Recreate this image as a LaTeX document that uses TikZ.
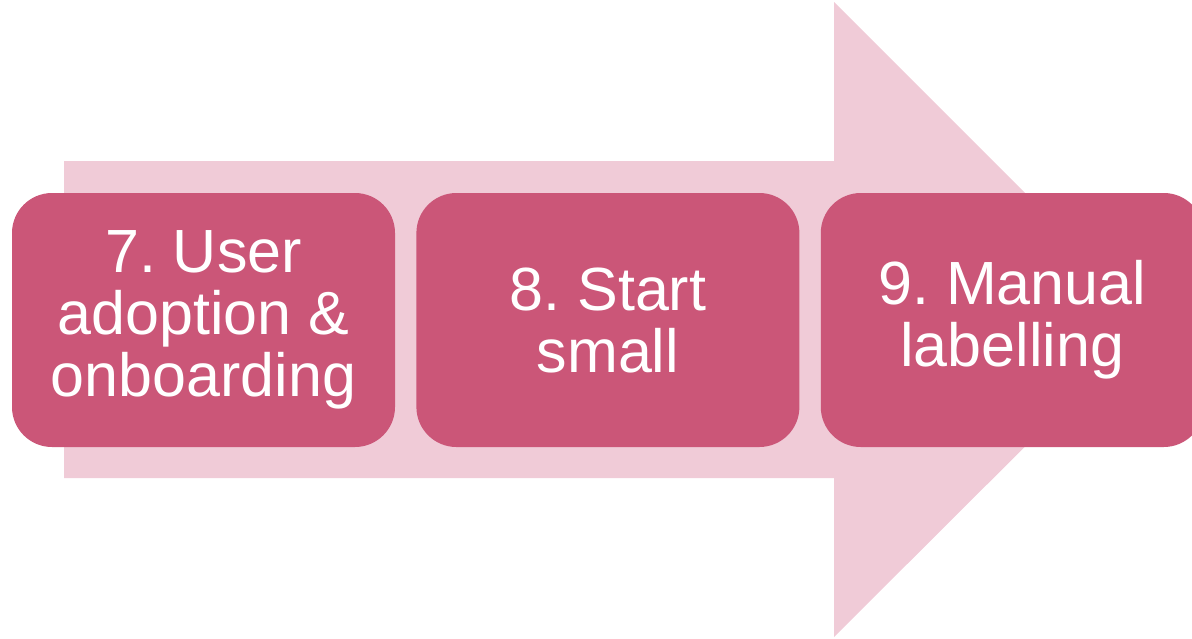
\documentclass[tikz,border=0pt]{standalone}
\usepackage{fontspec}
\setmainfont{Liberation Sans}
\frenchspacing
\usetikzlibrary{positioning}
\definecolor{Rose}{HTML}{CB5678}
\definecolor{Blush}{HTML}{F0CBD7}
\colorlet{stepface}{Rose}
\colorlet{arrowface}{Blush}
\tikzset{stepbox/.style={fill=stepface,rounded corners=40pt,minimum width=383pt,minimum height=254pt,
  text=white,align=center,inner sep=0pt,font=\fontsize{61}{62}\selectfont}}

\begin{document}
\begin{tikzpicture}[x=1pt,y=-1pt]
    \useasboundingbox (0,0) rectangle (1192,638);
    \fill[arrowface] (64,161)--(834,161)--(834,2)--(1152,320)--(834,637)--(834,478)--(64,478)--cycle;
    \node[stepbox] (s7) at (203.5,320){7. User\\adoption \&\\onboarding};
    \node[stepbox,right=21pt of s7] (s8){8. Start\\small};
    \node[stepbox,right=21pt of s8] (s9){9. Manual\\labelling};
  \end{tikzpicture}
\end{document}
